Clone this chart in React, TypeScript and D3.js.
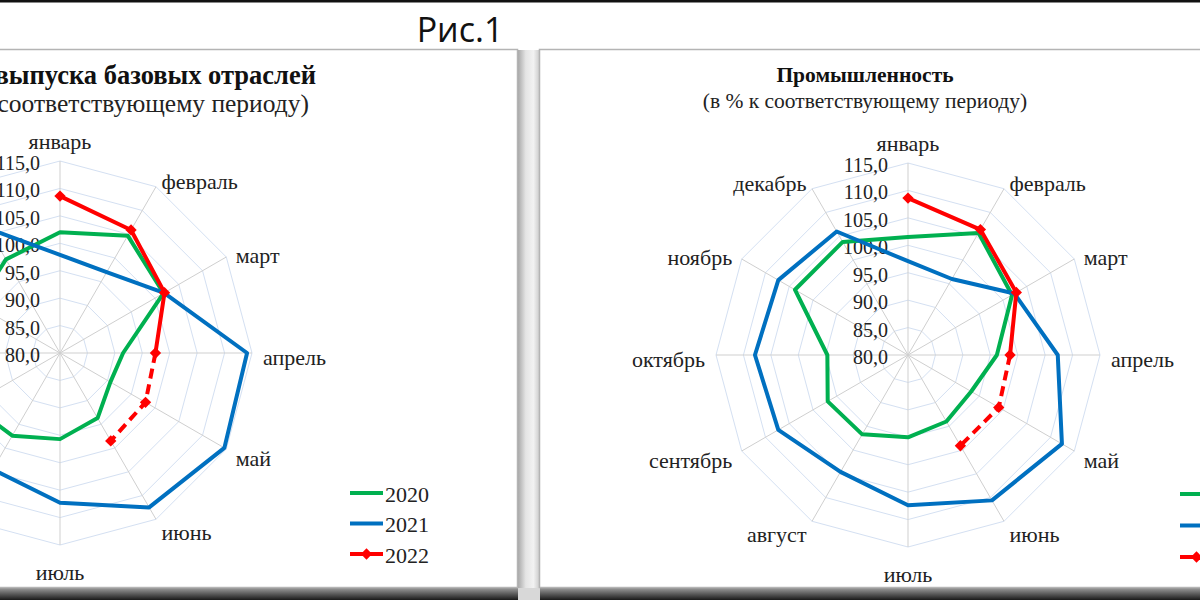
import React from "react";
import * as d3 from "d3";

const months = ["январь", "февраль", "март", "апрель", "май", "июнь", "июль", "август", "сентябрь", "октябрь", "ноябрь", "декабрь"];
const ticks = [80, 85, 90, 95, 100, 105, 110, 115];
const years = ["2020", "2021", "2022"];

// Left chart: базовые отрасли
const base2020 = [102.0, 104.7, 101.8, 91.5, 90.6, 93.7, 95.7, 97.4, 98.8, 95.0, 97.5, 99.7];
const base2021 = [97.9, 97.0, 101.9, 114.1, 114.6, 112.5, 107.3, 104.5, 107.0, 108.0, 107.2, 106.2];
const base2022 = [108.6, 105.9, 102.0, 97.4, 98.0, 98.5];

// Right chart: промышленность
const ind2020 = [101.5, 105.7, 101.9, 96.2, 93.3, 94.0, 95.0, 96.7, 96.9, 94.7, 103.8, 103.8];
const ind2021 = [97.1, 96.0, 102.4, 107.3, 112.4, 110.6, 107.4, 104.6, 107.3, 107.9, 107.3, 106.0];
const ind2022 = [108.6, 106.4, 102.8, 98.6, 99.1, 99.1];

const COLORS = { g: "#00B050", b: "#0070C0", r: "#FF0000" };
const SERIF = "'Liberation Serif', 'Times New Roman', serif";
const R = 192;
const rScale = d3.scaleLinear().domain([80, 115]).range([0, R]);
const angle = (i: number) => (i * 2 * Math.PI) / 12;

function Radar({ cx, cy, s20, s21, s22 }: { cx: number; cy: number; s20: number[]; s21: number[]; s22: number[] }) {
  const pt = (v: number, i: number): [number, number] => {
    const r = rScale(v);
    const a = angle(i);
    return [cx + r * Math.sin(a), cy - r * Math.cos(a)];
  };
  const closed = d3.line<[number, number]>().curve(d3.curveLinearClosed);
  const open = d3.line<[number, number]>();
  const p20 = s20.map(pt);
  const p21 = s21.map(pt);
  const p22 = s22.map(pt);
  const solid22 = p22.slice(0, 4);
  const dashed22 = p22.slice(3);
  return (
    <g>
      {ticks.slice(1).map((t) => (
        <path key={t} d={closed(months.map((_, i) => pt(t, i))) || ""} fill="none" stroke="#d4e0f2" strokeWidth={1} />
      ))}
      {months.map((m, i) => {
        const [x, y] = pt(115, i);
        return <line key={m} x1={cx} y1={cy} x2={x} y2={y} stroke="#cfcfcf" strokeWidth={1} />;
      })}
      {ticks.map((t) => (
        <text key={t} x={cx - 20} y={cy - rScale(t) + 2} textAnchor="end" dominantBaseline="central" fontFamily={SERIF} fontSize={20} fill="#222">
          {t.toFixed(1).replace(".", ",")}
        </text>
      ))}
      {months.map((m, i) => {
        const a = angle(i);
        const sn = Math.sin(a);
        const cs = Math.cos(a);
        const x = cx + (R + 11) * sn;
        let y = cy - (R + 11) * cs + 4;
        let anchor = "middle";
        if (sn > 0.1) anchor = "start";
        else if (sn < -0.1) anchor = "end";
        else if (cs > 0) y = cy - R - 20;
        else y = cy + R + 27;
        return (
          <text key={m} x={x} y={y} textAnchor={anchor} dominantBaseline="central" fontFamily={SERIF} fontSize={22} fill="#222">
            {m}
          </text>
        );
      })}
      <path d={closed(p20) || ""} fill="none" stroke={COLORS.g} strokeWidth={4} strokeLinejoin="round" />
      <path d={closed(p21) || ""} fill="none" stroke={COLORS.b} strokeWidth={4} strokeLinejoin="round" />
      <path d={open(solid22) || ""} fill="none" stroke={COLORS.r} strokeWidth={4} strokeLinejoin="round" />
      <path d={open(dashed22) || ""} fill="none" stroke={COLORS.r} strokeWidth={4} strokeDasharray="10,6" />
      {p22.map(([x, y], i) => (
        <rect key={i} x={-4} y={-4} width={8} height={8} fill={COLORS.r} transform={`translate(${x},${y}) rotate(45)`} />
      ))}
    </g>
  );
}

function Legend({ x, y0, step }: { x: number; y0: number; step: number }) {
  const cols = [COLORS.g, COLORS.b, COLORS.r];
  return (
    <g>
      {years.map((yr, i) => {
        const y = y0 + i * step;
        return (
          <g key={yr}>
            <line x1={x} x2={x + 33} y1={y} y2={y} stroke={cols[i]} strokeWidth={4} />
            {i === 2 && <rect x={-4} y={-4} width={8} height={8} fill={COLORS.r} transform={`translate(${x + 16.5},${y}) rotate(45)`} />}
            <text x={x + 35} y={y + 1} dominantBaseline="central" fontFamily={SERIF} fontSize={22} fill="#222">
              {yr}
            </text>
          </g>
        );
      })}
    </g>
  );
}

export default function App() {
  return (
    <div style={{ position: "fixed", left: 0, top: 0, width: 1200, height: 600, background: "#fff" }}>
      <svg width={1200} height={600} style={{ display: "block" }}>
        <defs>
          <linearGradient id="gapShade" x1="0" x2="1" y1="0" y2="0">
            <stop offset="0" stopColor="#a8a8a8" />
            <stop offset="0.35" stopColor="#e4e4e4" />
            <stop offset="0.7" stopColor="#f2f2f2" />
            <stop offset="1" stopColor="#c8c8c8" />
          </linearGradient>
          <linearGradient id="botShade" x1="0" x2="0" y1="0" y2="1">
            <stop offset="0" stopColor="#9a9a9a" />
            <stop offset="0.5" stopColor="#5a5a5a" />
            <stop offset="1" stopColor="#1a1a1a" />
          </linearGradient>
        </defs>
        <rect x={0} y={0} width={1200} height={600} fill="#fff" />
        <rect x={0} y={0} width={1200} height={2.5} fill="#111" />
        <text x={460} y={29} textAnchor="middle" dominantBaseline="central" fontFamily="'Open Sans', 'Liberation Sans', sans-serif" fontSize={34} fill="#111">
          Рис.1
        </text>
        {/* boxes */}
        <rect x={518} y={50} width={22} height={540} fill="url(#gapShade)" />
        <rect x={0} y={588} width={1200} height={12} fill="url(#botShade)" />
        <rect x={518} y={588} width={22} height={12} fill="#d8d8d8" />
        <rect x={-10} y={49.5} width={527.5} height={538} fill="#fff" stroke="#b4b4b4" strokeWidth={1.5} />
        <rect x={539.5} y={49.5} width={680} height={538} fill="#fff" stroke="#b4b4b4" strokeWidth={1.5} />

        {/* titles */}
        <text x={316} y={75} textAnchor="end" dominantBaseline="central" fontFamily={SERIF} fontSize={26.5} fontWeight="bold" fill="#111">
          Индекс выпуска базовых отраслей
        </text>
        <text x={309} y={103} textAnchor="end" dominantBaseline="central" fontFamily={SERIF} fontSize={25.5} fill="#222">
          (в % к соответствующему периоду)
        </text>
        <text x={865} y={75} textAnchor="middle" dominantBaseline="central" fontFamily={SERIF} fontSize={21.5} fontWeight="bold" fill="#111">
          Промышленность
        </text>
        <text x={865} y={101} textAnchor="middle" dominantBaseline="central" fontFamily={SERIF} fontSize={21.5} fill="#222">
          (в % к соответствующему периоду)
        </text>

        <Radar cx={60} cy={353} s20={base2020} s21={base2021} s22={base2022} />
        <Radar cx={908} cy={355} s20={ind2020} s21={ind2021} s22={ind2022} />
        <Legend x={350} y0={493} step={30.5} />
        <Legend x={1180} y0={494} step={31.5} />
      </svg>
    </div>
  );
}
